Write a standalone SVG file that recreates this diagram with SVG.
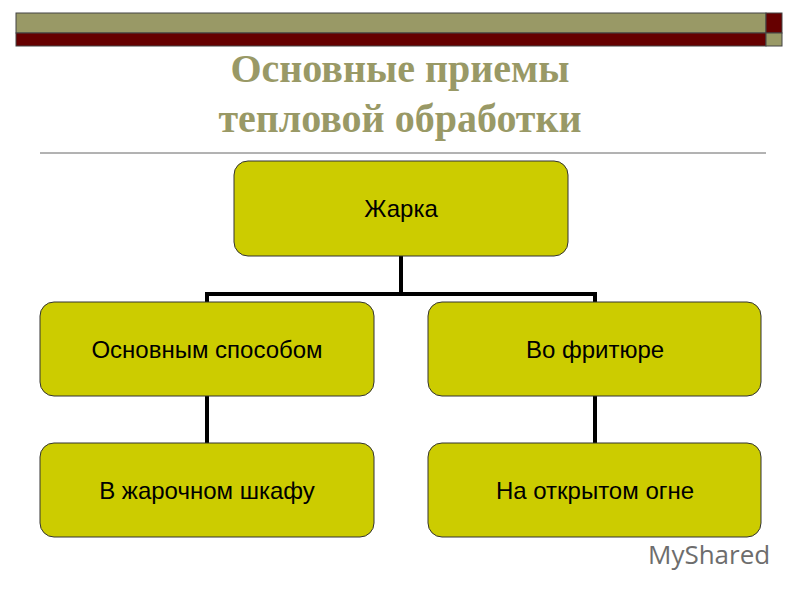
<svg xmlns="http://www.w3.org/2000/svg" width="800" height="600" viewBox="0 0 800 600">
<style>
.box{fill:#CCCC00;stroke:#333;stroke-width:1}
.t{font-family:"Liberation Sans",Arial,sans-serif;font-size:24px;fill:#000;text-anchor:middle}
.c{stroke:#000;stroke-width:4;fill:none}
</style>
<rect width="800" height="600" fill="#fff"/>
<rect x="16" y="13" width="750" height="20" fill="#999966" stroke="#444" stroke-width="1"/>
<rect x="16" y="33" width="750" height="13" fill="#660000" stroke="#444" stroke-width="1"/>
<rect x="766" y="13" width="16" height="20" fill="#660000" stroke="#444" stroke-width="1"/>
<rect x="766" y="33" width="16" height="13" fill="#999966" stroke="#444" stroke-width="1"/>
<g font-family="Liberation Serif,serif" font-weight="bold" font-size="40" fill="#999966" text-anchor="middle">
<text x="400" y="82">Основные приемы</text>
<text x="400" y="132">тепловой обработки</text>
</g>
<line x1="40" y1="153" x2="766" y2="153" stroke="#666" stroke-width="1"/>
<g id="connectors">
<path class="c" d="M401 256V294M207 302V294H595V302M207 396V443M595 396V443"/>
</g>
<g id="n1"><rect class="box" x="234" y="161" width="334" height="95" rx="14"/><text class="t" x="401" y="217">Жарка</text></g>
<g id="n2"><rect class="box" x="40" y="302" width="334" height="94" rx="14"/><text class="t" x="207" y="358">Основным способом</text></g>
<g id="n3"><rect class="box" x="428" y="302" width="333" height="94" rx="14"/><text class="t" x="595" y="358">Во фритюре</text></g>
<g id="n4"><rect class="box" x="40" y="443" width="334" height="94" rx="14"/><text class="t" x="207" y="499">В жарочном шкафу</text></g>
<g id="n5"><rect class="box" x="428" y="443" width="333" height="94" rx="14"/><text class="t" x="595" y="499">На открытом огне</text></g>
<text x="648" y="564" font-family="Open Sans,Liberation Sans,sans-serif" font-size="26" fill="#6d6d6d">MyShared</text>
</svg>
